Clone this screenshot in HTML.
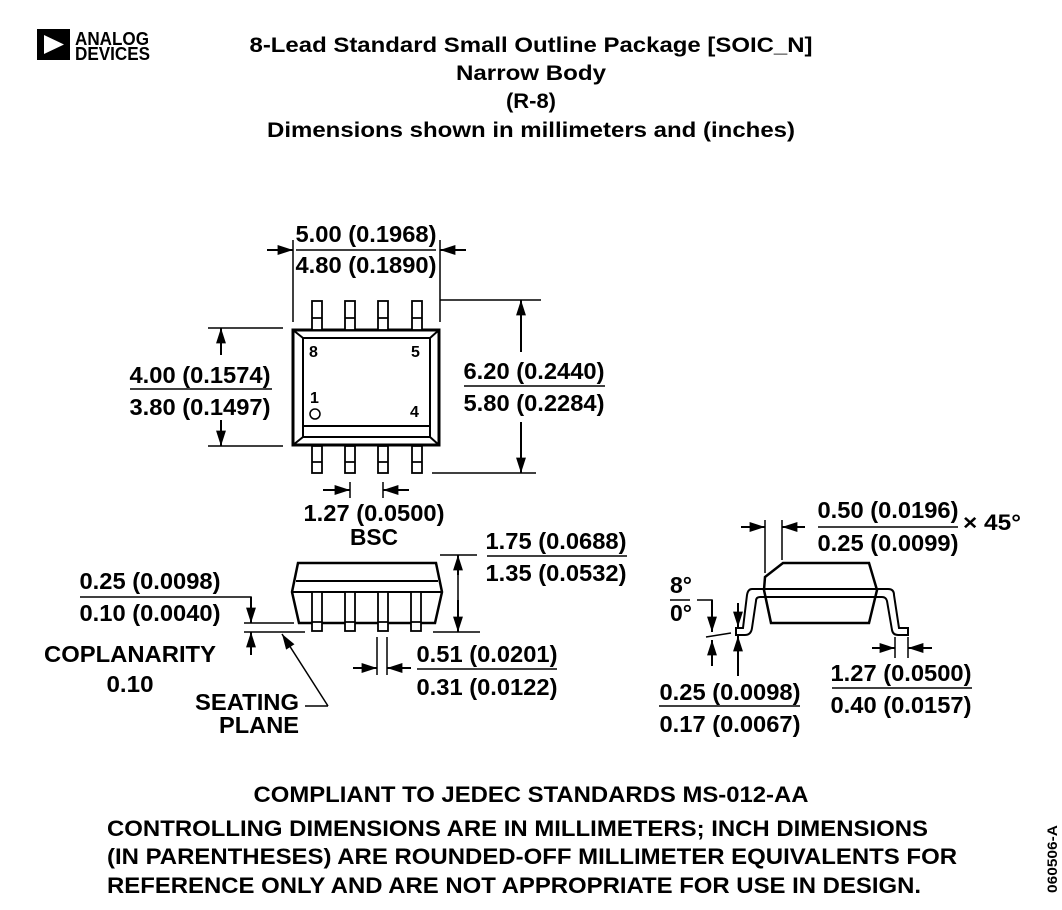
<!DOCTYPE html>
<html><head><meta charset="utf-8"><style>
html,body{margin:0;padding:0;background:#fff;}
svg{display:block;}
text{font-family:"Liberation Sans",Arial,sans-serif;font-weight:bold;fill:#000;}
</style></head><body>
<svg width="1062" height="910" viewBox="0 0 1062 910" xmlns="http://www.w3.org/2000/svg">
<defs>
<marker id="a" viewBox="0 0 14 10" refX="14" refY="5" markerWidth="16" markerHeight="11" markerUnits="userSpaceOnUse" orient="auto"><path d="M0,0.5 L14,5 L0,9.5 z" fill="#000"/></marker>
</defs>
<!-- logo -->
<rect x="37" y="29" width="33" height="31" fill="#000"/>
<path d="M44,35 L64,44.5 L44,54 z" fill="#fff"/>
<text x="75" y="45" font-size="18" textLength="74" lengthAdjust="spacingAndGlyphs">ANALOG</text>
<text x="75" y="60" font-size="18" textLength="75" lengthAdjust="spacingAndGlyphs">DEVICES</text>
<!-- title -->
<g font-size="21" text-anchor="middle">
<text x="531" y="52" textLength="563" lengthAdjust="spacingAndGlyphs">8-Lead Standard Small Outline Package [SOIC_N]</text>
<text x="531" y="80" textLength="150" lengthAdjust="spacingAndGlyphs">Narrow Body</text>
<text x="531" y="108" textLength="50" lengthAdjust="spacingAndGlyphs">(R-8)</text>
<text x="531" y="137" textLength="528" lengthAdjust="spacingAndGlyphs">Dimensions shown in millimeters and (inches)</text>
</g>
<g stroke="#000" fill="none" stroke-width="2">
<rect x="293" y="330" width="146" height="115" stroke-width="3"/>
<rect x="303" y="338" width="127" height="99" stroke-width="2"/>
<line x1="303" y1="426" x2="430" y2="426"/>
<line x1="293" y1="330" x2="303" y2="338"/><line x1="439" y1="330" x2="430" y2="338"/>
<line x1="293" y1="445" x2="303" y2="437"/><line x1="439" y1="445" x2="430" y2="437"/>
<g stroke-width="1.8" fill="#fff">
<rect x="312" y="301" width="10" height="29"/><rect x="345" y="301" width="10" height="29"/><rect x="378" y="301" width="10" height="29"/><rect x="412" y="301" width="10" height="29"/>
<rect x="312" y="446" width="10" height="27"/><rect x="345" y="446" width="10" height="27"/><rect x="378" y="446" width="10" height="27"/><rect x="412" y="446" width="10" height="27"/>
<path d="M312,318h10M345,318h10M378,318h10M412,318h10M312,462h10M345,462h10M378,462h10M412,462h10"/>
</g>
<circle cx="315" cy="414" r="5" stroke-width="1.5"/>
<line x1="293" y1="240" x2="293" y2="322" stroke-width="1.5"/><line x1="440" y1="240" x2="440" y2="322" stroke-width="1.5"/>
<line x1="267" y1="250" x2="293" y2="250" marker-end="url(#a)"/><line x1="466" y1="250" x2="440" y2="250" marker-end="url(#a)"/>
<line x1="296" y1="250" x2="436" y2="250" stroke-width="1.5"/>
<line x1="208" y1="328" x2="283" y2="328" stroke-width="1.5"/><line x1="208" y1="446" x2="283" y2="446" stroke-width="1.5"/>
<line x1="221" y1="355" x2="221" y2="328" marker-end="url(#a)"/><line x1="221" y1="420" x2="221" y2="446" marker-end="url(#a)"/>
<line x1="130" y1="389" x2="272" y2="389" stroke-width="1.5"/>
<line x1="440" y1="300" x2="541" y2="300" stroke-width="1.5"/><line x1="432" y1="473" x2="536" y2="473" stroke-width="1.5"/>
<line x1="521" y1="352" x2="521" y2="300" marker-end="url(#a)"/><line x1="521" y1="422" x2="521" y2="473" marker-end="url(#a)"/>
<line x1="464" y1="386" x2="605" y2="386" stroke-width="1.5"/>
<line x1="323" y1="490" x2="350" y2="490" marker-end="url(#a)"/><line x1="409" y1="490" x2="383" y2="490" marker-end="url(#a)"/>
<line x1="350" y1="482" x2="350" y2="498" stroke-width="1.5"/><line x1="383" y1="482" x2="383" y2="498" stroke-width="1.5"/>
<path d="M298,563 L436,563 L442,592 L435,623 L299,623 L292,592 Z" stroke-width="2.5"/>
<line x1="296" y1="581" x2="438" y2="581"/>
<line x1="293" y1="592" x2="441" y2="592"/>
<g fill="#fff" stroke-width="1.8">
<rect x="312" y="592" width="10" height="39"/><rect x="345" y="592" width="10" height="39"/><rect x="378" y="592" width="10" height="39"/><rect x="411" y="592" width="10" height="39"/>
<path d="M312,622h10M345,622h10M378,622h10M411,622h10"/>
</g>
<line x1="440" y1="555" x2="477" y2="555" stroke-width="1.5"/><line x1="433" y1="632" x2="480" y2="632" stroke-width="1.5"/>
<line x1="458" y1="575" x2="458" y2="555" marker-end="url(#a)"/><line x1="458" y1="600" x2="458" y2="632" marker-end="url(#a)"/>
<line x1="458" y1="570" x2="458" y2="610" stroke-width="1.5"/>
<line x1="487" y1="556" x2="627" y2="556" stroke-width="1.5"/>
<line x1="244" y1="623" x2="294" y2="623" stroke-width="1.5"/><line x1="244" y1="632" x2="305" y2="632" stroke-width="1.5"/>
<polyline points="80,597 251,597 251,600" stroke-width="1.5"/>
<line x1="251" y1="597" x2="251" y2="623" marker-end="url(#a)"/>
<line x1="251" y1="655" x2="251" y2="632" marker-end="url(#a)"/>
<line x1="328" y1="706" x2="282" y2="634" marker-end="url(#a)" stroke-width="1.5"/>
<line x1="328" y1="706" x2="305" y2="706" stroke-width="1.5"/>
<line x1="377" y1="637" x2="377" y2="675" stroke-width="1.5"/><line x1="387" y1="637" x2="387" y2="675" stroke-width="1.5"/>
<line x1="353" y1="668" x2="377" y2="668" marker-end="url(#a)"/><line x1="411" y1="668" x2="387" y2="668" marker-end="url(#a)"/>
<line x1="417" y1="669" x2="557" y2="669" stroke-width="1.5"/>
<path d="M752,589 L888,589 Q894,589 894,595 L899,628 L908,628 L908,635 L898,635 Q893,635 892,630 L887,601 Q886,597 882,597 L760,597 Q756,597 756,601 L752,628 Q751,635 745,635 L736,635 L736,628 L743,628 L747,595 Q748,589 752,589 Z" stroke-width="2" fill="#fff"/>
<path d="M783,563 L869,563 L877,590 L869,623 L771,623 L764,590 L765,577 Z" stroke-width="2.5" fill="none"/>
<line x1="765" y1="520" x2="765" y2="573" stroke-width="1.5"/><line x1="782" y1="520" x2="782" y2="560" stroke-width="1.5"/>
<line x1="741" y1="527" x2="765" y2="527" marker-end="url(#a)"/><line x1="805" y1="527" x2="782" y2="527" marker-end="url(#a)"/>
<line x1="818" y1="527" x2="958" y2="527" stroke-width="1.5"/>
<line x1="670" y1="600" x2="690" y2="600" stroke-width="1.5"/>
<polyline points="697,600 712,600 712,605" stroke-width="1.5"/>
<line x1="712" y1="600" x2="712" y2="632" marker-end="url(#a)"/>
<line x1="712" y1="666" x2="712" y2="640" marker-end="url(#a)"/>
<line x1="706" y1="637" x2="731" y2="633" stroke-width="1.5"/>
<line x1="738" y1="603" x2="738" y2="627" marker-end="url(#a)"/>
<line x1="738" y1="676" x2="738" y2="636" marker-end="url(#a)"/>
<line x1="659" y1="706" x2="800" y2="706" stroke-width="1.5"/>
<line x1="895" y1="637" x2="895" y2="658" stroke-width="1.5"/><line x1="908" y1="637" x2="908" y2="658" stroke-width="1.5"/>
<line x1="872" y1="648" x2="895" y2="648" marker-end="url(#a)"/><line x1="932" y1="648" x2="908" y2="648" marker-end="url(#a)"/>
<line x1="832" y1="688" x2="972" y2="688" stroke-width="1.5"/>
</g>
<g font-size="23" text-anchor="middle">
<text x="366" y="242" textLength="141" lengthAdjust="spacingAndGlyphs">5.00 (0.1968)</text>
<text x="366" y="273" textLength="141" lengthAdjust="spacingAndGlyphs">4.80 (0.1890)</text>
<text x="200" y="383" textLength="141" lengthAdjust="spacingAndGlyphs">4.00 (0.1574)</text>
<text x="200" y="415" textLength="141" lengthAdjust="spacingAndGlyphs">3.80 (0.1497)</text>
<text x="534" y="379" textLength="141" lengthAdjust="spacingAndGlyphs">6.20 (0.2440)</text>
<text x="534" y="411" textLength="141" lengthAdjust="spacingAndGlyphs">5.80 (0.2284)</text>
<text x="374" y="521" textLength="141" lengthAdjust="spacingAndGlyphs">1.27 (0.0500)</text>
<text x="374" y="545" textLength="48" lengthAdjust="spacingAndGlyphs">BSC</text>
<text x="556" y="549" textLength="141" lengthAdjust="spacingAndGlyphs">1.75 (0.0688)</text>
<text x="556" y="581" textLength="141" lengthAdjust="spacingAndGlyphs">1.35 (0.0532)</text>
<text x="150" y="589" textLength="141" lengthAdjust="spacingAndGlyphs">0.25 (0.0098)</text>
<text x="150" y="621" textLength="141" lengthAdjust="spacingAndGlyphs">0.10 (0.0040)</text>
<text x="130" y="662" textLength="172" lengthAdjust="spacingAndGlyphs">COPLANARITY</text>
<text x="130" y="692" textLength="47" lengthAdjust="spacingAndGlyphs">0.10</text>
<text x="247" y="710" textLength="104" lengthAdjust="spacingAndGlyphs">SEATING</text>
<text x="259" y="733" textLength="80" lengthAdjust="spacingAndGlyphs">PLANE</text>
<text x="487" y="662" textLength="141" lengthAdjust="spacingAndGlyphs">0.51 (0.0201)</text>
<text x="487" y="695" textLength="141" lengthAdjust="spacingAndGlyphs">0.31 (0.0122)</text>
<text x="888" y="518" textLength="141" lengthAdjust="spacingAndGlyphs">0.50 (0.0196)</text>
<text x="888" y="551" textLength="141" lengthAdjust="spacingAndGlyphs">0.25 (0.0099)</text>
<text x="681" y="593">8°</text>
<text x="681" y="621">0°</text>
<text x="730" y="700" textLength="141" lengthAdjust="spacingAndGlyphs">0.25 (0.0098)</text>
<text x="730" y="732" textLength="141" lengthAdjust="spacingAndGlyphs">0.17 (0.0067)</text>
<text x="901" y="681" textLength="141" lengthAdjust="spacingAndGlyphs">1.27 (0.0500)</text>
<text x="901" y="713" textLength="141" lengthAdjust="spacingAndGlyphs">0.40 (0.0157)</text>
</g>
<text x="963" y="530" font-size="22" textLength="58" lengthAdjust="spacingAndGlyphs">× 45°</text>
<g font-size="16">
<text x="309" y="357">8</text><text x="411" y="357">5</text>
<text x="310" y="403">1</text><text x="410" y="417">4</text>
</g>
<g font-size="22">
<text x="531" y="802" text-anchor="middle" textLength="555" lengthAdjust="spacingAndGlyphs">COMPLIANT TO JEDEC STANDARDS MS-012-AA</text>
<text x="107" y="836" textLength="821" lengthAdjust="spacingAndGlyphs">CONTROLLING DIMENSIONS ARE IN MILLIMETERS; INCH DIMENSIONS</text>
<text x="107" y="864" textLength="850" lengthAdjust="spacingAndGlyphs">(IN PARENTHESES) ARE ROUNDED-OFF MILLIMETER EQUIVALENTS FOR</text>
<text x="107" y="893" textLength="814" lengthAdjust="spacingAndGlyphs">REFERENCE ONLY AND ARE NOT APPROPRIATE FOR USE IN DESIGN.</text>
</g>
<text transform="translate(1057,893) rotate(-90)" font-size="14" textLength="68" lengthAdjust="spacingAndGlyphs">060506-A</text>
</svg>
</body></html>
